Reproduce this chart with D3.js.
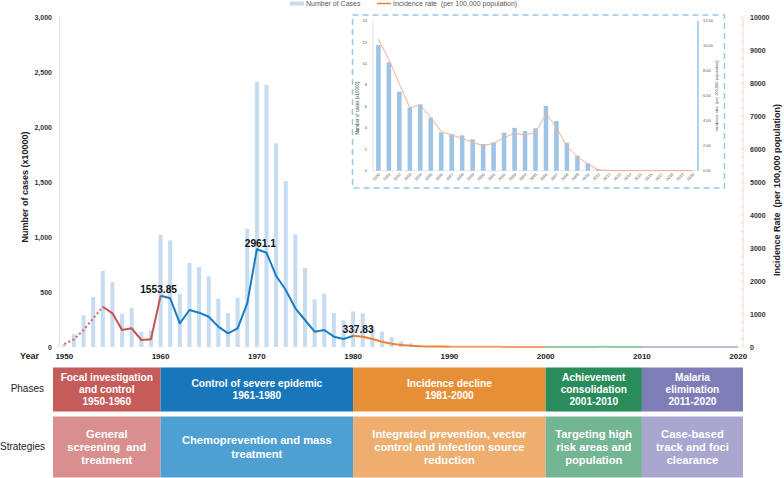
<!DOCTYPE html>
<html lang="en">
<head>
<meta charset="UTF-8">
<title>Malaria cases and incidence, 1950-2020</title>
<script src="https://d3js.org/d3.v7.min.js"></script>
<style>
    body { margin: 0; background: #fff; font-family: "Liberation Sans", Arial, sans-serif; }
    svg { display: block; }
</style>
</head>
<body>
<svg id="chart" width="784" height="478"></svg>
<script>
    // cases in units of 10,000, incidence per 100,000 population
    const years = d3.range(1950, 2021);
    const cases = [30, 115, 288, 455, 690, 590, 303, 355, 136, 150,
        1020, 970, 485, 764, 727, 642, 440, 309, 448, 1075,
        2412, 2382, 1852, 1509, 1024, 718, 433, 485, 309, 242,
        324, 306, 180, 139, 90, 50, 33, 15, 8, 6,
        11.73, 10.12, 7.38, 5.88, 6.2, 4.95, 3.58, 3.4, 3.3, 2.93,
        2.5, 2.65, 3.55, 4.0, 3.7, 3.96, 6.04, 4.64, 2.61, 1.4,
        0.69, 0.13, 0.03, 0.03, 0.02, 0.02, 0.02, 0.02, 0.02, 0.02, 0.01];
    const rates = [91, 233, 515, 870, 1221, 1021, 515, 566, 212, 233,
        1553.85, 1475, 718, 1121, 1040, 918, 616, 414, 566, 1323,
        2961.1, 2857, 2161, 1727, 1172, 818, 465, 515, 313, 242,
        337.83, 313, 240, 160, 100, 60, 40, 25, 18, 14,
        10.51, 8.91, 6.94, 5.04, 5.26, 4.27, 3.12, 2.86, 2.59, 2.27,
        2.0, 2.19, 2.64, 3.0, 2.86, 3.04, 4.54, 3.47, 1.92, 1.12,
        0.54, 0.06, 0.02, 0.01, 0.01, 0.01, 0.01, 0.01, 0.01, 0.01, 0.01];

    const xTicks = [1950, 1960, 1970, 1980, 1990, 2000, 2010, 2020];
    const casesTicks = [0, 500, 1000, 1500, 2000, 2500, 3000];
    const rateTicks = d3.range(0, 10001, 1000);
    const peakYears = [1960, 1970, 1980];
    const peakShift = [-2, 3.5, 5];

    // line segments by phase
    const segments = [
        {from: 1950, to: 1954, color: "#d9625c", dash: "2,2.5"},
        {from: 1954, to: 1960, color: "#c9524e", dash: null},
        {from: 1960, to: 1980, color: "#1c7cc2", dash: null},
        {from: 1980, to: 1990, color: "#ee8233", dash: null},
        {from: 1990, to: 2000, color: "#f2a06a", dash: null},
        {from: 2000, to: 2010, color: "#8fcba6", dash: null},
        {from: 2010, to: 2020, color: "#bdbbdd", dash: null}
    ];

    const phaseStarts = [1950, 1960, 1980, 2000, 2010];
    const phaseNames = [
        ["Focal investigation", "and control", "1950-1960"],
        ["Control of severe epidemic", "1961-1980"],
        ["Incidence decline", "1981-2000"],
        ["Achievement", "consolidation", "2001-2010"],
        ["Malaria", "elimination", "2011-2020"]
    ];
    const strategyNames = [
        ["General", "screening  and", "treatment"],
        ["Chemoprevention and mass", "treatment"],
        ["Integrated prevention, vector", "control and infection source", "reduction"],
        ["Targeting high", "risk areas and", "population"],
        ["Case-based", "track and foci", "clearance"]
    ];
    const phaseColors = ["#c55c59", "#1877bb", "#e68f37", "#2b8c5b", "#7f7db8"];
    const strategyColors = ["#d98f8e", "#4ea0d2", "#edae6f", "#74b693", "#a9a7d0"];

    const insetYears = d3.range(1990, 2021);
    const insetCaseTicks = d3.range(0, 15, 2);
    const insetRateTicks = d3.range(0, 12.1, 2);

    const svg = d3.select("#chart");
    const font = "'Liberation Sans', Arial, sans-serif";

    const plot = {left: 59.5, right: 743, top: 17, bottom: 347};

    const x = d3.scaleBand()
        .domain(years)
        .range([plot.left, plot.right])
        .paddingInner(0.58)
        .paddingOuter(0.29);
    const cx = yr => x(yr) + x.bandwidth() / 2;

    const yCases = d3.scaleLinear().domain([0, 3000]).range([plot.bottom, plot.top]);
    const yRate = d3.scaleLinear().domain([0, 10000]).range([plot.bottom, plot.top]);

    // axis lines
    svg.append("line")
        .attr("x1", plot.left).attr("x2", plot.left)
        .attr("y1", plot.top).attr("y2", plot.bottom)
        .attr("stroke", "#f6d9d2").attr("stroke-width", 1);
    svg.append("line")
        .attr("x1", plot.right).attr("x2", plot.right)
        .attr("y1", plot.top).attr("y2", plot.bottom)
        .attr("stroke", "#f6d9d2").attr("stroke-width", 1);
    svg.append("g")
        .selectAll("line")
        .data(d3.range(0, 10001, 250))
        .join("line")
        .attr("x1", plot.right - 2).attr("x2", plot.right)
        .attr("y1", d => yRate(d)).attr("y2", d => yRate(d))
        .attr("stroke", "#f6d9d2");

    // bars
    svg.append("g")
        .selectAll("rect")
        .data(years)
        .join("rect")
        .attr("x", d => x(d))
        .attr("width", x.bandwidth())
        .attr("y", (d, i) => yCases(cases[i]))
        .attr("height", (d, i) => yCases(0) - yCases(cases[i]))
        .attr("fill", "#c6dcf1");

    // incidence line, coloured by phase
    const line = d3.line()
        .x(d => cx(d[0]))
        .y(d => yRate(d[1]));

    const points = years.map((yr, i) => [yr, rates[i]]);
    segments.forEach(s => {
        svg.append("path")
            .datum(points.filter(p => p[0] >= s.from && p[0] <= s.to))
            .attr("fill", "none")
            .attr("stroke", s.color)
            .attr("stroke-width", 2)
            .attr("stroke-dasharray", s.dash)
            .attr("stroke-linejoin", "round")
            .attr("d", line);
    });

    // peak labels
    svg.append("g")
        .selectAll("text")
        .data(peakYears)
        .join("text")
        .attr("x", (d, i) => cx(d) + peakShift[i])
        .attr("y", d => yRate(rates[years.indexOf(d)]) - 2.5)
        .attr("text-anchor", "middle")
        .attr("font-family", font)
        .attr("font-weight", "bold")
        .attr("font-size", 10.2)
        .attr("fill", "#111")
        .text(d => String(rates[years.indexOf(d)]));

    // tick labels
    svg.append("g")
        .selectAll("text")
        .data(casesTicks)
        .join("text")
        .attr("x", 52)
        .attr("y", d => yCases(d) + 2.5)
        .attr("text-anchor", "end")
        .attr("font-family", font)
        .attr("font-weight", "bold")
        .attr("font-size", 7)
        .attr("fill", "#333")
        .text(d => d3.format(",")(d));

    svg.append("g")
        .selectAll("text")
        .data(rateTicks)
        .join("text")
        .attr("x", 750)
        .attr("y", d => yRate(d) + 2.5)
        .attr("font-family", font)
        .attr("font-weight", "bold")
        .attr("font-size", 7)
        .attr("fill", "#333")
        .text(d => d);

    svg.append("g")
        .selectAll("text")
        .data(xTicks)
        .join("text")
        .attr("x", d => cx(d))
        .attr("y", 359)
        .attr("text-anchor", "middle")
        .attr("font-family", font)
        .attr("font-weight", "bold")
        .attr("font-size", 8)
        .attr("fill", "#222")
        .text(d => d);

    svg.append("text")
        .attr("x", 20).attr("y", 359)
        .attr("font-family", font).attr("font-weight", "bold")
        .attr("font-size", 9).attr("fill", "#222")
        .text("Year");

    svg.append("text")
        .attr("transform", "translate(28,187) rotate(-90)")
        .attr("text-anchor", "middle")
        .attr("font-family", font).attr("font-weight", "bold")
        .attr("font-size", 9).attr("fill", "#222")
        .text("Number of cases (x10000)");

    svg.append("text")
        .attr("transform", "translate(780,190) rotate(-90)")
        .attr("text-anchor", "middle")
        .attr("font-family", font).attr("font-weight", "bold")
        .attr("font-size", 9).attr("fill", "#222")
        .attr("xml:space", "preserve")
        .text("Incidence Rate  (per 100,000 population)");

    // legend
    const legend = svg.append("g").attr("font-family", font).attr("font-size", 7).attr("fill", "#595959");
    legend.append("line").attr("x1", 290).attr("x2", 304).attr("y1", 3.5).attr("y2", 3.5)
        .attr("stroke", "#c6dcf1").attr("stroke-width", 4);
    legend.append("text").attr("x", 306).attr("y", 6).text("Number of Cases");
    legend.append("line").attr("x1", 377).attr("x2", 391).attr("y1", 3.5).attr("y2", 3.5)
        .attr("stroke", "#ee8233").attr("stroke-width", 1.5);
    legend.append("text").attr("x", 393).attr("y", 6).attr("xml:space", "preserve")
        .text("Incidence rate  (per 100,000 population)");

    // inset
    const inset = svg.append("g");
    const ib = {left: 373, right: 698, top: 20.7, bottom: 170.7};

    inset.append("rect")
        .attr("x", 352.5).attr("y", 15)
        .attr("width", 372).attr("height", 173)
        .attr("fill", "#fff")
        .attr("stroke", "#9cc6ea")
        .attr("stroke-width", 1.5)
        .attr("stroke-dasharray", "6,4");

    const ix = d3.scaleBand()
        .domain(insetYears)
        .range([ib.left, ib.right])
        .paddingInner(0.57)
        .paddingOuter(0.3);
    const icx = yr => ix(yr) + ix.bandwidth() / 2;
    const iyCases = d3.scaleLinear().domain([0, 14]).range([ib.bottom, ib.top]);
    const iyRate = d3.scaleLinear().domain([0, 12]).range([ib.bottom, ib.top]);

    inset.append("line")
        .attr("x1", ib.left).attr("x2", ib.left).attr("y1", ib.top).attr("y2", ib.bottom)
        .attr("stroke", "#c9def2").attr("stroke-width", 0.8);
    inset.append("line")
        .attr("x1", ib.right).attr("x2", ib.right).attr("y1", ib.top).attr("y2", ib.bottom)
        .attr("stroke", "#5ea8e0").attr("stroke-width", 1);
    inset.append("line")
        .attr("x1", ib.left).attr("x2", ib.right).attr("y1", ib.bottom).attr("y2", ib.bottom)
        .attr("stroke", "#d9d9d9").attr("stroke-width", 0.6);

    inset.append("g")
        .selectAll("rect")
        .data(insetYears)
        .join("rect")
        .attr("x", d => ix(d))
        .attr("width", ix.bandwidth())
        .attr("y", d => iyCases(cases[years.indexOf(d)]))
        .attr("height", d => iyCases(0) - iyCases(cases[years.indexOf(d)]))
        .attr("fill", "#9dc3e6");

    const iline = d3.line()
        .x(d => icx(d))
        .y(d => iyRate(rates[years.indexOf(d)]));
    inset.append("path")
        .datum(insetYears)
        .attr("fill", "none")
        .attr("stroke", "#f4b18e")
        .attr("stroke-width", 1)
        .attr("d", iline);

    inset.append("g")
        .selectAll("text")
        .data(insetCaseTicks)
        .join("text")
        .attr("x", 367).attr("y", d => iyCases(d) + 1.5)
        .attr("text-anchor", "end")
        .attr("font-family", font).attr("font-size", 4).attr("fill", "#555")
        .text(d => d);

    inset.append("g")
        .selectAll("text")
        .data(insetRateTicks)
        .join("text")
        .attr("x", 703).attr("y", d => iyRate(d) + 1.5)
        .attr("font-family", font).attr("font-size", 4).attr("fill", "#555")
        .text(d => d3.format(".2f")(d));

    inset.append("g")
        .selectAll("text")
        .data(insetYears)
        .join("text")
        .attr("transform", d => `translate(${icx(d) + 2},${ib.bottom + 4}) rotate(-45)`)
        .attr("text-anchor", "end")
        .attr("font-family", font).attr("font-size", 4).attr("fill", "#555")
        .text(d => d);

    inset.append("text")
        .attr("transform", "translate(359,108) rotate(-90)")
        .attr("text-anchor", "middle")
        .attr("font-family", font).attr("font-size", 4.5).attr("fill", "#444")
        .text("Number of cases (x10000)");

    inset.append("text")
        .attr("transform", "translate(718,96) rotate(-90)")
        .attr("text-anchor", "middle")
        .attr("font-family", font).attr("font-size", 4).attr("fill", "#444")
        .attr("xml:space", "preserve")
        .text("Incidence rate  (per 100,000 population)");

    // phases and strategies table
    const tableLeft = 53;
    const bounds = phaseStarts.map((yr, i) => i === 0 ? tableLeft : cx(yr)).concat([plot.right]);

    function drawRow(y0, h, colors, labels, size, lineH) {
        const row = svg.append("g");
        labels.forEach((lines, i) => {
            const x0 = bounds[i], x1 = bounds[i + 1];
            row.append("rect")
                .attr("x", x0).attr("y", y0)
                .attr("width", x1 - x0).attr("height", h)
                .attr("fill", colors[i]);
            const t = row.append("text")
                .attr("text-anchor", "middle")
                .attr("font-family", font)
                .attr("font-weight", "bold")
                .attr("font-size", size)
                .attr("fill", "#fff")
                .attr("xml:space", "preserve");
            const startY = y0 + h / 2 - (lines.length - 1) * lineH / 2 + size * 0.36;
            lines.forEach((s, k) => {
                t.append("tspan")
                    .attr("x", (x0 + x1) / 2)
                    .attr("y", startY + k * lineH)
                    .text(s);
            });
        });
    }

    drawRow(367.5, 44, phaseColors, phaseNames, 10.2, 12.3);
    drawRow(416.5, 61, strategyColors, strategyNames, 11.2, 13.3);

    svg.append("text")
        .attr("x", 44).attr("y", 392)
        .attr("text-anchor", "end")
        .attr("font-family", font).attr("font-size", 10).attr("fill", "#222")
        .text("Phases");
    svg.append("text")
        .attr("x", 45).attr("y", 450)
        .attr("text-anchor", "end")
        .attr("font-family", font).attr("font-size", 10).attr("fill", "#222")
        .text("Strategies");
</script>
</body>
</html>
